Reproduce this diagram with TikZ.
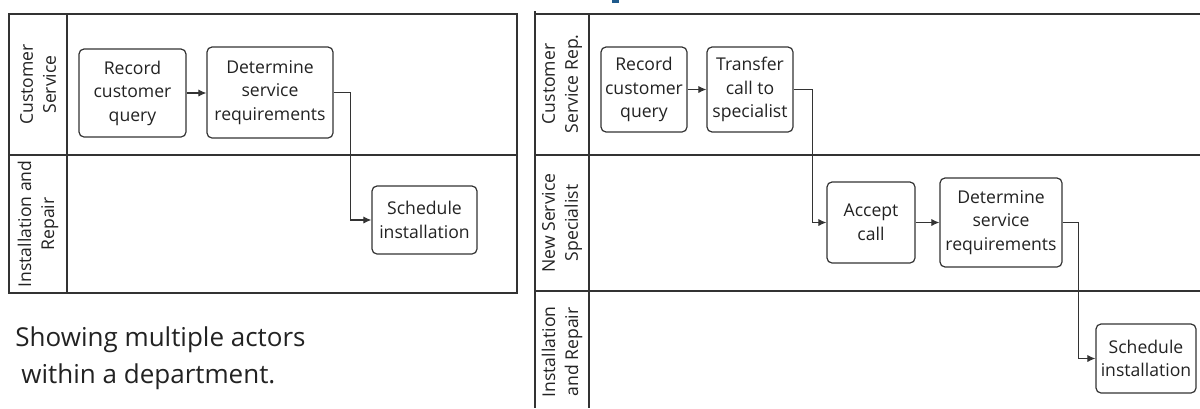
\documentclass[tikz,border=0pt]{standalone}
\usepackage{fontspec}
\setmainfont{Open Sans}
\usetikzlibrary{arrows.meta}
\definecolor{ln}{HTML}{333333}
\definecolor{tx}{HTML}{222222}
\definecolor{bl}{HTML}{1F5A8C}
\begin{document}
\begin{tikzpicture}[x=0.5pt,y=-0.5pt,
  task/.style={draw=ln, line width=0.6pt, rounded corners=2.5pt, align=center, inner sep=0pt,
    font=\fontsize{8.8}{11.75}\selectfont, text=tx},
  sz/.style 2 args={minimum width=#1*0.5pt, minimum height=#2*0.5pt},
  lane/.style={draw=ln, line width=0.55pt},
  frame/.style={draw=ln, line width=0.9pt},
  lbl/.style={rotate=90, align=center, inner sep=0pt, text=tx, font=\fontsize{8.8}{11.5}\selectfont},
  flow/.style={draw=ln, line width=0.55pt, -{Latex[length=4pt,width=3.6pt]}},
  captxt/.style={anchor=base west, inner sep=0pt, text=tx, font=\fontsize{13}{19}\selectfont}
]
\useasboundingbox (0,0) rectangle (1200,408);

% ---------- left diagram ----------
\draw[lane] (67,14) -- (67,293);
\draw[lane] (9,155) -- (517,155);
\draw[frame] (9,14) rectangle (517,293);

\node[lbl] (lcs) at (38,84.5) {Customer\\Service};
\node[lbl] (lir) at (38,224) {Installation and\\Repair};

\node[task, sz={107}{88}] (lr) at (132.5,93) {Record\\customer\\query};
\node[task, sz={126}{91}] (ld) at (270,92.5) {Determine\\service\\requirements};
\node[task, sz={105}{68}] (ls) at (424.5,220) {Schedule\\installation};

\draw[flow] (lr.east) -- (lr.east -| ld.west);
\draw[flow] (ld.east) -- ++(17,0) |- (ls.west);

\node[captxt] (cap1) at (15,346) {Showing multiple actors};
\node[captxt] (cap2) at (21,383) {within a department.};

% ---------- right diagram ----------
\fill[bl] (612,0) rectangle (619,3);
\draw[lane] (535,14) -- (1200,14);
\draw[lane] (589,14) -- (589,408);
\draw[lane] (535,155) -- (1200,155);
\draw[lane] (535,291) -- (1200,291);
\draw[draw=ln, line width=1.3pt] (535,11) -- (535,408);

\node[lbl] (rcs) at (562,84) {Customer\\Service Rep.};
\node[lbl] (rns) at (562,223) {New Service\\Specialist};
\node[lbl] (rir) at (562,352) {Installation\\and Repair};

\node[task, sz={86}{85}] (rr) at (644,89.5) {Record\\customer\\query};
\node[task, sz={86}{85}] (rt) at (750,89.5) {Transfer\\call to\\specialist};
\node[task, sz={88}{81}] (ra) at (871,222.5) {Accept\\call};
\node[task, sz={122}{89}] (rd) at (1001,222.5) {Determine\\service\\requirements};
\node[task, sz={100}{69}] (rs) at (1146,358.5) {Schedule\\installation};

\draw[flow] (rr.east) -- (rt.west);
\draw[flow] (rt.east) -- ++(19,0) |- (ra.west);
\draw[flow] (ra.east) -- (rd.west);
\draw[flow] (rd.east) -- ++(16,0) |- (rs.west);
\end{tikzpicture}
\end{document}
